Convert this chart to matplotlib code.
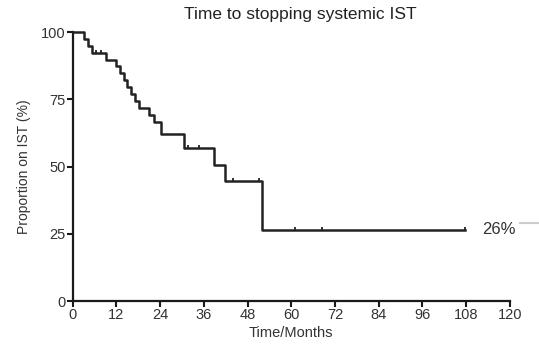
import numpy as np
import matplotlib
matplotlib.use('Agg')
import matplotlib.pyplot as plt
from matplotlib.lines import Line2D

plt.rcParams['font.family'] = ['Liberation Sans', 'DejaVu Sans']

# Kaplan-Meier steps (months, % still on IST)
step_times = [0, 3.2, 4.2, 5.2, 9.0, 12.0, 13.0, 14.0, 15.0, 16.0, 17.0, 18.3,
              21.0, 22.3, 24.2, 30.5, 38.7, 41.7, 51.9]
step_surv = [100, 97.4, 94.9, 92.3, 89.7, 87.2, 84.6, 82.1, 79.5, 76.9, 74.4, 71.8,
             69.2, 66.7, 62.0, 57.0, 50.5, 44.6, 26.5]
last_followup = 107.8
censor_times = [6.3, 7.7, 31.6, 34.6, 43.9, 51.0, 61.0, 68.5, 107.8]

x_ticks = [0, 12, 24, 36, 48, 60, 72, 84, 96, 108, 120]
y_ticks = [0, 25, 50, 75, 100]

fig = plt.figure(figsize=(5.39, 3.48), dpi=100)
ax = fig.add_axes([0.135, 0.135, 0.811, 0.773])

line_col = '#222222'
ax.step(step_times + [last_followup], step_surv + [step_surv[-1]], where='post',
        color=line_col, lw=1.8, clip_on=False, zorder=3)

# censor marks sit on the curve
idx = np.searchsorted(step_times, censor_times, side='right') - 1
censor_y = [step_surv[i] for i in idx]
ax.plot(censor_times, censor_y, linestyle='none', marker=2, markersize=2.5,
        markeredgewidth=1.3, color=line_col, zorder=4)

ax.text(112.5, step_surv[-1], '26%', fontsize=12, color='#333333', va='center', ha='left')
fig.add_artist(Line2D([520 / 539, 1.0], [1 - 223 / 348, 1 - 223 / 348],
                      color='#cccccc', lw=1.5))

ax.set_xlim(0, 120)
ax.set_ylim(0, 100)
ax.set_xticks(x_ticks)
ax.set_yticks(y_ticks)
for s in ['top', 'right']:
    ax.spines[s].set_visible(False)
for s in ['left', 'bottom']:
    ax.spines[s].set_linewidth(1.6)
    ax.spines[s].set_color('#1a1a1a')
ax.tick_params(direction='out', length=4, width=1.5, colors='#1a1a1a',
               labelsize=10.5, labelcolor='#333333', pad=1)

ax.set_xlabel('Time/Months', fontsize=10.5, color='#333333', labelpad=3)
ax.set_ylabel('Proportion on IST (%)', fontsize=10, color='#333333', labelpad=7)
fig.text(300 / 539, 1 - 15 / 348, 'Time to stopping systemic IST', fontsize=12.5,
         color='#222222', ha='center', va='center')

fig.savefig('out.png', dpi=100)
